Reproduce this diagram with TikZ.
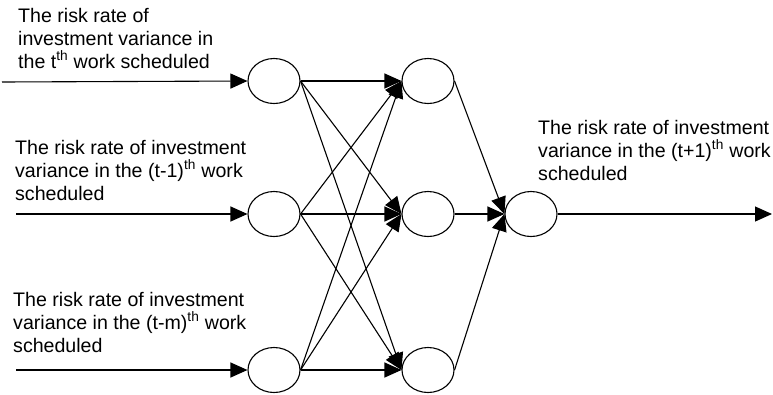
\documentclass[tikz,border=0pt]{standalone}
\usepackage{fontspec}
\setmainfont{Liberation Sans}
\usetikzlibrary{arrows.meta,shapes.geometric}
\begin{document}
\begin{tikzpicture}[x=1pt,y=-1pt,
  neuron/.style={draw, ellipse, line width=1.1pt, minimum width=52pt, minimum height=45pt, inner sep=0pt},
  link/.style={line width=1.1pt, -{Triangle[length=17pt,width=15pt]}},
  label/.style={anchor=base west, align=left, inner sep=0pt,
    font=\fontsize{19.6}{23}\selectfont}]
  \fill[white] (0,0) rectangle (773,394);
  \useasboundingbox (0,0) rectangle (773,394);

  % input layer
  \node[neuron] (i1) at (274,81) {};
  \node[neuron] (i2) at (274,214) {};
  \node[neuron] (i3) at (274,370) {};
  % hidden layer
  \node[neuron] (h1) at (428,81) {};
  \node[neuron] (h2) at (428,214) {};
  \node[neuron] (h3) at (428,370) {};
  % output
  \node[neuron] (o) at (531,214) {};

  % input signals
  \coordinate (s1) at (2,82);
  \coordinate (s2) at (16,214);
  \coordinate (s3) at (16,370);
  \coordinate (t) at (772,214);
  \draw[link] (s1) -- (i1.west);
  \draw[link] (s2) -- (i2.west);
  \draw[link] (s3) -- (i3.west);

  % fully connected input -> hidden
  \foreach \a in {1,2,3}{
    \foreach \b in {1,2,3}{
      \draw[link] (i\a.east) -- (h\b.west);
    }
  }
  % hidden -> output
  \foreach \b in {1,2,3}{
    \draw[link] (h\b.east) -- (o.west);
  }
  \draw[link] (o.east) -- (t);

  % labels (anchored at the baseline of their last line)
  \node[label] (l1) at (18,68) {The risk rate of\\investment variance in\\the t\textsuperscript{th} work scheduled};
  \node[label] (l2) at (15,200) {The risk rate of investment\\variance in the (t-1)\textsuperscript{th} work\\scheduled};
  \node[label] (l3) at (13,352) {The risk rate of investment\\variance in the (t-m)\textsuperscript{th} work\\scheduled};
  \node[label] (l4) at (538,180) {The risk rate of investment\\variance in the (t+1)\textsuperscript{th} work\\scheduled};
\end{tikzpicture}
\end{document}
